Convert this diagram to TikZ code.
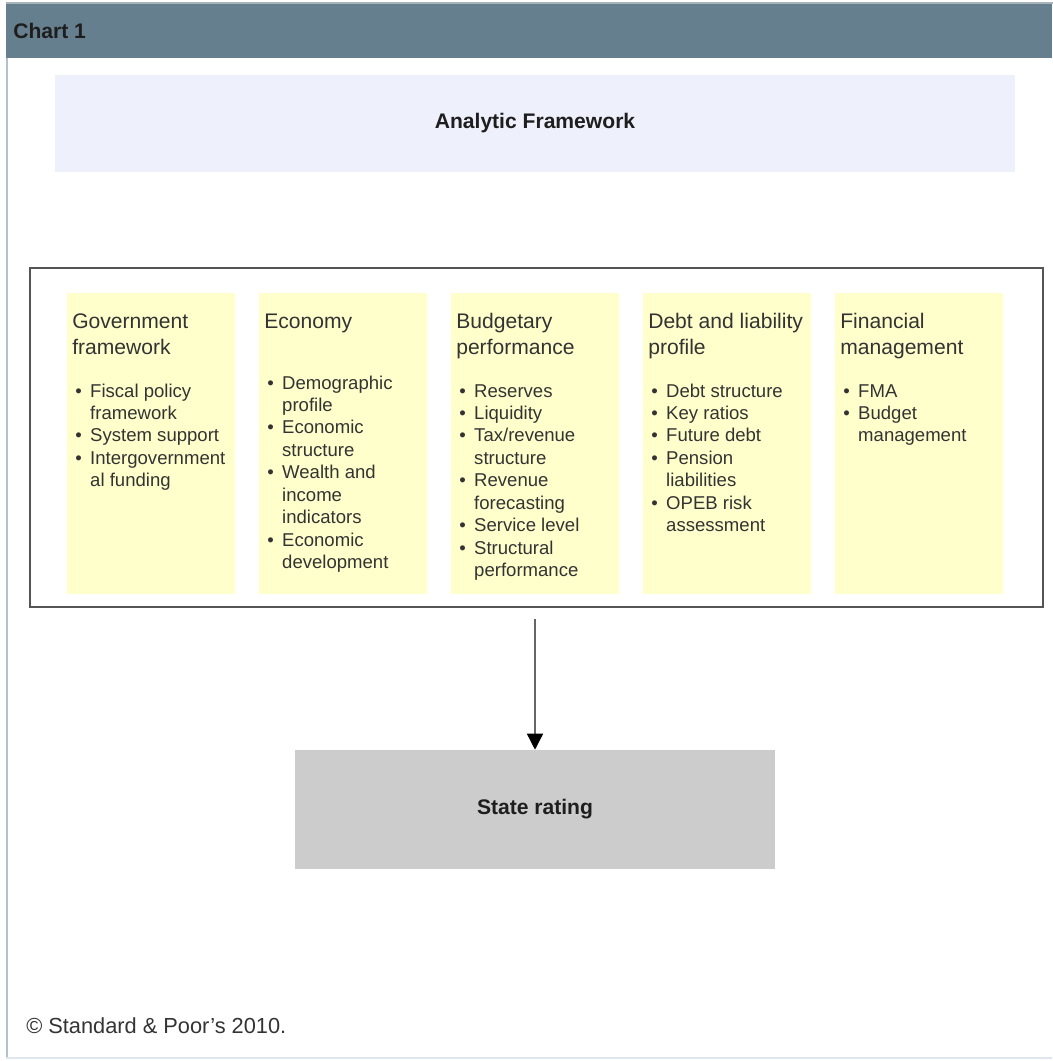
\documentclass[tikz,border=0pt]{standalone}
\usepackage{fontspec}
\setmainfont{Liberation Sans}
\usetikzlibrary{arrows.meta,calc}
\definecolor{hdrslate}{HTML}{667F8F}
\definecolor{hdredge}{HTML}{A9B3BA}
\definecolor{sideline}{HTML}{B4C0CE}
\definecolor{footline}{HTML}{E0E6EE}
\definecolor{fwblue}{HTML}{EEF0FC}
\definecolor{colyellow}{HTML}{FFFFCC}
\definecolor{ratinggray}{HTML}{CCCCCC}
\definecolor{framegray}{HTML}{555555}
\definecolor{txtgray}{HTML}{333333}
\definecolor{txtdark}{HTML}{1E1E1E}
\newcommand{\px}{0.25mm}
\newcommand{\coltitle}[1]{\begin{tabular}[t]{@{}l@{}}#1\end{tabular}}
\newcommand{\collist}[1]{\begin{tabular}[t]{@{}l@{\hspace{6pt}}l@{}}#1\end{tabular}}
\begin{document}
\begin{tikzpicture}[x=\px, y=-\px,
    colbox/.style = {fill = colyellow, minimum width = 168*\px, minimum height = 301*\px, anchor = north west, inner sep = 0},
    headtext/.style = {anchor = base west, inner sep = 0, text = txtgray, font = \fontsize{15}{18.5}\selectfont},
    listtext/.style = {anchor = base west, inner sep = 0, text = txtgray, font = \fontsize{13.2}{16}\selectfont},
    boldlabel/.style = {text = txtdark, font = \bfseries\fontsize{15}{18}\selectfont},
    flowline/.style = {draw = black!60, line width = 1.5*\px, -{Triangle[width = 4mm, length = 4mm, color = black]}}]
  \useasboundingbox (0, 0) rectangle (1052, 1061);
  % page frame and header bar
  \draw[draw = sideline, line width = 2.5*\px] (7, 58) -- (7, 1058);
  \draw[draw = footline, line width = 2*\px] (6, 1058) -- (1052, 1058);
  \node[fill = hdrslate, minimum width = 1046*\px, minimum height = 55*\px, anchor = north west, inner sep = 0] (hdr) at (6, 3) {};
  \draw[draw = hdredge, line width = 1.5*\px] (hdr.north west) -- (hdr.north east);
  \node[boldlabel, anchor = west, inner sep = 0] (charttitle) at (13, 31) {Chart 1};
  % top banner
  \node[boldlabel, fill = fwblue, minimum width = 960*\px, minimum height = 97*\px] (framework) at (535, 123.5) {Analytic Framework};
  % outer frame with the five columns
  \node[draw = framegray, line width = 2*\px, minimum width = 1013*\px, minimum height = 339*\px, inner sep = 0] (frame) at (536.5, 437.5) {};
  \node[colbox] (gov) at (67, 293) {};
  \node[colbox] (econ) at (259, 293) {};
  \node[colbox] (budget) at (451, 293) {};
  \node[colbox] (debt) at (643, 293) {};
  \node[colbox] (finmgmt) at (835, 293) {};
  \node[headtext] (govtitle) at ($(gov.north west) + (5, 35)$) {\coltitle{Government\\framework}};
  \node[headtext] (econtitle) at ($(econ.north west) + (5, 35)$) {\coltitle{Economy}};
  \node[headtext] (budgettitle) at ($(budget.north west) + (5, 35)$) {\coltitle{Budgetary\\performance}};
  \node[headtext] (debttitle) at ($(debt.north west) + (5, 35)$) {\coltitle{Debt and liability\\profile}};
  \node[headtext] (finmgmttitle) at ($(finmgmt.north west) + (5, 35)$) {\coltitle{Financial\\management}};
  \node[listtext] (govlist) at ($(gov.north west) + (8, 104)$) {\collist{%
    \textbullet & Fiscal policy\\ & framework\\
    \textbullet & System support\\
    \textbullet & Intergovernment\\ & al funding}};
  \node[listtext] (econlist) at ($(econ.north west) + (8, 96)$) {\collist{%
    \textbullet & Demographic\\ & profile\\
    \textbullet & Economic\\ & structure\\
    \textbullet & Wealth and\\ & income\\ & indicators\\
    \textbullet & Economic\\ & development}};
  \node[listtext] (budgetlist) at ($(budget.north west) + (8, 104)$) {\collist{%
    \textbullet & Reserves\\
    \textbullet & Liquidity\\
    \textbullet & Tax/revenue\\ & structure\\
    \textbullet & Revenue\\ & forecasting\\
    \textbullet & Service level\\
    \textbullet & Structural\\ & performance}};
  \node[listtext] (debtlist) at ($(debt.north west) + (8, 104)$) {\collist{%
    \textbullet & Debt structure\\
    \textbullet & Key ratios\\
    \textbullet & Future debt\\
    \textbullet & Pension\\ & liabilities\\
    \textbullet & OPEB risk\\ & assessment}};
  \node[listtext] (finmgmtlist) at ($(finmgmt.north west) + (8, 104)$) {\collist{%
    \textbullet & FMA\\
    \textbullet & Budget\\ & management}};
  % result
  \node[boldlabel, fill = ratinggray, minimum width = 480*\px, minimum height = 119*\px] (rating) at (535, 809.5) {State rating};
  \draw[flowline] ($(rating.north |- frame.south) + (0, 11)$) -- (rating.north);
  \node[anchor = west, inner sep = 0, text = txtgray, font = \fontsize{15.5}{18}\selectfont] (copyright) at (26, 1026) {© Standard \& Poor’s 2010.};
\end{tikzpicture}
\end{document}
